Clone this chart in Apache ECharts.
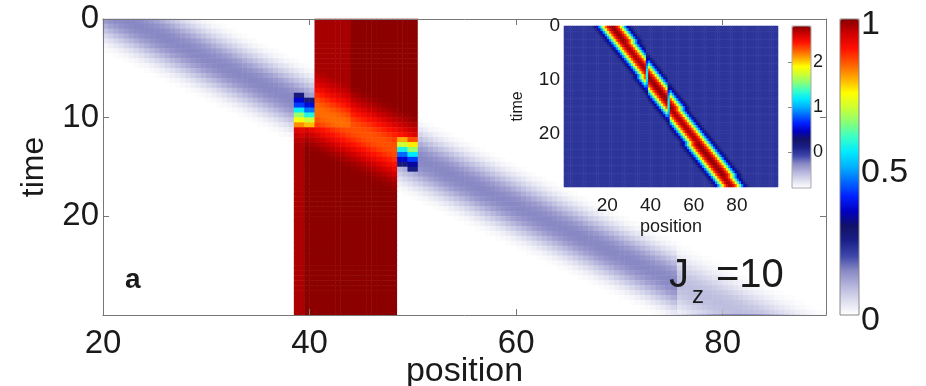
<!DOCTYPE html>
<html><head><meta charset="utf-8">
<script src="https://cdn.jsdelivr.net/npm/echarts@6/dist/echarts.min.js"></script>
<style>html,body{margin:0;padding:0;background:#fff}#c{width:926px;height:386px}</style>
</head><body><div id="c"></div><script>
// ================= DATA =================
const mainXTicks = [20, 40, 60, 80];
const mainTimeTicks = [0, 10, 20];
const mainColorTicks = [0, 0.5, 1];
const insetXTicks = [20, 40, 60, 80];
const insetTimeTicks = [0, 10, 20];
const insetColorTicks = [0, 1, 2];

const mainXRange = [20, 90];
const timeRange = [0, 30];
const mainColorRange = [0, 1];
const insetXRange = [0, 99];
const insetColorRange = [-0.8, 2.8];

// centre of the travelling packet, one value per half-unit time row (t = 0.25, 0.75, ...)
const mainBandCentre = [22.5,23.5,24.5,25.5,26.5,27.5,28.5,29.5,30.5,31.5,32.5,33.5,34.5,35.5,36.5,37.5,38.5,39.5,40.5,41.5,42.5,43.5,44.5,45.5,46.5,47.5,48.5,49.5,50.5,51.5,52.5,53.5,54.5,55.5,56.5,57.5,58.5,59.5,60.5,61.5,62.5,63.5,64.5,65.5,66.5,67.5,68.5,69.5,70.5,71.5,72.5,73.5,74.5,75.5,76.5,77.5,78.5,79.5,80.5,81.5];
// packet amplitude vs distance from centre (0.5 steps)
const mainBandProfile = [0.15,0.148,0.144,0.138,0.13,0.12,0.108,0.095,0.082,0.069,0.056,0.044,0.033,0.023,0.015,0.009,0.005];
// dip of the saturated region where the packet crosses it (0.5 steps)
const regionHoleProfile = [0.14,0.138,0.133,0.125,0.116,0.106,0.095,0.083,0.07,0.058,0.047,0.037,0.028,0.02,0.013,0.008,0.004];
// saturated region: [xFrom, xTo, tFrom, tTo, level]
const regionSpans = [[40.5,48.5,0,30,0.996],[48.5,50.5,0,12,0.996],[38.5,40.5,11,30,0.996]];
const regionShades = [[40.5,44,0,11,0.978],[38.5,39.5,11,30,0.975]];
// edge blobs: column span, first row time, values per half-unit row
const blobXs = [[38.5,39.5],[39.5,40.5],[48.5,49.5],[49.5,50.5]];
const blobT0 = [7.5, 7.5, 12, 12];
const blobValues = [
  [0.27,0.36,0.42,0.56,0.66,0.74,0.82],
  [null,0.27,0.37,0.46,0.58,0.70,0.79],
  [0.80,0.70,0.57,0.45,0.36,0.27],
  [0.86,0.76,0.66,0.55,0.42,0.33,0.26]
];

// inset: packet centre per half-unit time row, profile per unit distance
const insetBandCentre = [22.5,23.5,24.5,25.5,26.5,27.5,28,29,30,31,32,33,34,35,36,37,38,39,40,40.5,41.5,42.5,43.5,44.5,45.5,46.5,47.5,48.5,49.5,50.5,51.5,52,53,54,55,56,57,58,59,60,61,62,63,64,64.5,65.5,66.5,67.5,68.5,69.5,70.5,71.5,72.5,73.5,74.5,75.5,76,77,78,79];
const insetBandProfile = [2.78,2.7,2.52,2.25,1.88,1.42,0.92,0.48,0.18,0.04];
const insetShiftAt = [38, 48];      // segment boundaries
const insetShiftBy = [-1, -2];      // delay of the packet in each later segment
const insetGapCols = [38.5, 48.5];  // weakened column at each boundary
const insetGapFactor = 0.45;

// ================= BUILD =================
const FONT = 'Liberation Sans, Arial, Helvetica, sans-serif';
const cmap = ['#ffffff','#dcdcee','#b4b4dc','#8888c4','#3d46aa','#1a2088','#121268','#0000c0','#0020ff','#0068ff','#00b0ff','#00eaff','#38ffc8','#88ff78','#ccff34','#ffff00','#ffaa00','#ff5a00','#ff1000','#d00000','#860000'];

const nRows = (timeRange[1]-timeRange[0])*2;
const rowT = []; for (let i=0;i<nRows;i++) rowT.push(timeRange[0]+0.25+0.5*i);
const mainColX = []; for (let j=0;j<(mainXRange[1]-mainXRange[0])*2;j++) mainColX.push(mainXRange[0]+0.25+0.5*j);
const insetColX = []; for (let j=0;j<(insetXRange[1]-insetXRange[0]);j++) insetColX.push(insetXRange[0]+0.5+j);

function mainValue(x, i) {
  const t = rowT[i];
  for (let b=0;b<blobXs.length;b++) {
    if (x>blobXs[b][0] && x<blobXs[b][1]) {
      const k = Math.floor((t-blobT0[b])/0.5);
      if (k>=0 && k<blobValues[b].length && blobValues[b][k]!=null) return blobValues[b][k];
    }
  }
  const k = Math.floor(Math.abs(x-mainBandCentre[i])*2);
  let lvl = null;
  for (const r of regionSpans) if (x>r[0]&&x<r[1]&&t>r[2]&&t<r[3]) lvl = r[4];
  if (lvl!=null) {
    for (const s of regionShades) if (x>s[0]&&x<s[1]&&t>s[2]&&t<s[3]) lvl = s[4];
    return lvl - (regionHoleProfile[k]||0);
  }
  return mainBandProfile[k]||0;
}
function insetValue(x, i) {
  let c = insetBandCentre[i];
  for (let s=0;s<insetShiftAt.length;s++) if (x>insetShiftAt[s]) c = insetBandCentre[i]+insetShiftBy[s];
  const k = Math.round(Math.abs(x-c));
  let v = insetBandProfile[k]||0;
  if (insetGapCols.indexOf(x)>=0) v *= insetGapFactor;
  return v;
}
const mainData = [], insetData = [];
for (let i=0;i<nRows;i++) {
  for (let j=0;j<mainColX.length;j++) mainData.push([j,i,mainValue(mainColX[j],i)]);
  for (let j=0;j<insetColX.length;j++) insetData.push([j,i,insetValue(insetColX[j],i)]);
}

const M = {left:103, top:19, width:723, height:296};
const I = {left:564, top:26, width:214, height:161};
const CB = {left:840, top:19, width:19, height:296};
const ICB = {left:792, top:26, width:19, height:162};
const lineC = '#777';
const txtC = '#1a1a1a';

const hiddenCat = (data, gi) => ({type:'category', data:data.map(String), gridIndex:gi, show:false, boundaryGap:true});
const G = (b) => Object.assign({show:false, outerBoundsMode:'none', containLabel:false}, b);
const option = {
  animation:false,
  backgroundColor:'#fff',
  textStyle:{fontFamily:FONT},
  grid:[G(M), G(I), G(CB), G(ICB)],
  xAxis:[
    hiddenCat(mainColX,0),
    {type:'value', gridIndex:0, min:mainXRange[0], max:mainXRange[1], position:'bottom', z:10,
     axisLine:{show:true, onZero:false, lineStyle:{color:lineC}},
     axisTick:{show:true, inside:true, length:6, customValues:mainXTicks, lineStyle:{color:lineC}},
     axisLabel:{customValues:mainXTicks, fontSize:33, color:txtC, margin:12, fontFamily:FONT},
     splitLine:{show:false},
     name:'position', nameLocation:'middle', nameGap:57, nameMoveOverlap:false,
     nameTextStyle:{fontSize:34, color:txtC, fontFamily:FONT, verticalAlign:'middle'}},
    {type:'value', gridIndex:0, min:mainXRange[0], max:mainXRange[1], position:'top', z:10,
     axisLine:{show:true, onZero:false, lineStyle:{color:lineC}},
     axisTick:{show:true, inside:true, length:6, customValues:mainXTicks, lineStyle:{color:lineC}},
     axisLabel:{show:false}, splitLine:{show:false}},
    hiddenCat(insetColX,1),
    {type:'value', gridIndex:1, min:insetXRange[0], max:insetXRange[1], position:'bottom', z:10,
     axisLine:{show:false}, axisTick:{show:false},
     axisLabel:{customValues:insetXTicks, fontSize:19, color:txtC, margin:9, fontFamily:FONT},
     splitLine:{show:false},
     name:'position', nameLocation:'middle', nameGap:31, nameTextStyle:{fontSize:18, color:txtC, fontFamily:FONT}},
    {type:'value', gridIndex:2, min:0, max:1, show:false},
    {type:'value', gridIndex:3, min:0, max:1, show:false}
  ],
  yAxis:[
    Object.assign(hiddenCat(rowT,0), {inverse:true}),
    {type:'value', gridIndex:0, min:timeRange[0], max:timeRange[1], inverse:true, position:'left', z:10,
     axisLine:{show:true, onZero:false, lineStyle:{color:lineC}},
     axisTick:{show:true, inside:true, length:6, customValues:mainTimeTicks, lineStyle:{color:lineC}},
     axisLabel:{customValues:mainTimeTicks, fontSize:33, color:txtC, margin:4, fontFamily:FONT},
     splitLine:{show:false},
     name:'time', nameLocation:'middle', nameGap:53, nameRotate:90, nameTextStyle:{fontSize:32, color:txtC, fontFamily:FONT}},
    {type:'value', gridIndex:0, min:timeRange[0], max:timeRange[1], inverse:true, position:'right', z:10,
     axisLine:{show:true, onZero:false, lineStyle:{color:lineC}},
     axisTick:{show:true, inside:true, length:6, customValues:mainTimeTicks, lineStyle:{color:lineC}},
     axisLabel:{show:false}, splitLine:{show:false}},
    Object.assign(hiddenCat(rowT,1), {inverse:true}),
    {type:'value', gridIndex:1, min:timeRange[0], max:timeRange[1], inverse:true, position:'left', z:10,
     axisLine:{show:false}, axisTick:{show:false},
     axisLabel:{customValues:insetTimeTicks, fontSize:19, color:txtC, margin:4, fontFamily:FONT},
     splitLine:{show:false},
     name:'time', nameLocation:'middle', nameGap:38, nameRotate:90, nameTextStyle:{fontSize:16, color:txtC, fontFamily:FONT}},
    {type:'value', gridIndex:2, min:mainColorRange[0], max:mainColorRange[1], position:'right', z:10,
     axisLine:{show:false}, axisTick:{show:false},
     axisLabel:{customValues:mainColorTicks, fontSize:34, color:txtC, margin:2, verticalAlign:'top', lineHeight:12, fontFamily:FONT},
     splitLine:{show:false}},
    {type:'value', gridIndex:3, min:insetColorRange[0], max:insetColorRange[1], position:'right', z:10,
     axisLine:{show:false},
     axisTick:{show:true, inside:true, length:4, customValues:insetColorTicks, lineStyle:{color:'#888'}},
     axisLabel:{customValues:insetColorTicks, fontSize:18, color:txtC, margin:2, fontFamily:FONT},
     splitLine:{show:false}}
  ],
  visualMap:[
    {type:'continuous', seriesIndex:0, min:mainColorRange[0], max:mainColorRange[1], calculable:false, hoverLink:false,
     orient:'vertical', left:CB.left, top:CB.top, itemWidth:CB.width, itemHeight:CB.height, padding:0, text:null,
     inRange:{color:cmap}},
    {type:'continuous', seriesIndex:1, min:insetColorRange[0], max:insetColorRange[1], calculable:false, hoverLink:false,
     orient:'vertical', left:ICB.left, top:ICB.top, itemWidth:ICB.width, itemHeight:ICB.height, padding:0, text:null,
     inRange:{color:cmap}}
  ],
  series:[
    {type:'heatmap', xAxisIndex:0, yAxisIndex:0, data:mainData, progressive:0, emphasis:{disabled:true}},
    {type:'heatmap', xAxisIndex:3, yAxisIndex:3, data:insetData, progressive:0, emphasis:{disabled:true}}
  ],
  graphic:[
    {type:'rect', z:50, shape:{x:CB.left, y:CB.top, width:CB.width, height:CB.height}, style:{fill:null, stroke:'#888', lineWidth:1}},
    {type:'rect', z:50, shape:{x:ICB.left, y:ICB.top, width:ICB.width, height:ICB.height}, style:{fill:null, stroke:'#aaa', lineWidth:1}},
    {type:'rect', z:40, shape:{x:677, y:243, width:148, height:71}, style:{fill:'rgba(255,255,255,0.45)'}},
    {type:'text', z:60, left:125, top:266, style:{text:'a', fontSize:28, fontWeight:'bold', fill:txtC, fontFamily:FONT}},
    {type:'text', z:60, left:669, top:256, style:{text:'J', fontSize:40, fill:txtC, fontFamily:FONT}},
    {type:'text', z:60, left:692, top:284, style:{text:'z', fontSize:24, fill:txtC, fontFamily:FONT}},
    {type:'text', z:60, left:716, top:256, style:{text:'=10', fontSize:40, fill:txtC, fontFamily:FONT}}
  ]
};
const chart = echarts.init(document.getElementById('c'), null, {renderer:'canvas'});
chart.setOption(option);
</script></body></html>
